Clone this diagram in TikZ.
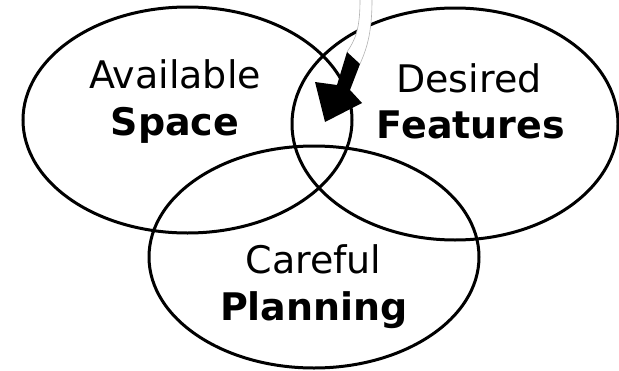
\documentclass[tikz,border=0pt]{standalone}
\usepackage{fontspec}
\setmainfont{DejaVu Sans}
\tikzset{
  ring/.style={line width=3pt},
  word/.style={anchor=base, inner sep=0pt, font=\fontsize{38}{47}\selectfont},
  boldword/.style={word, font=\fontsize{38}{47}\selectfont\bfseries}
}
\begin{document}
\begin{tikzpicture}[x=1pt,y=-1pt]
            \useasboundingbox (0,0) rectangle (619,370);
            \draw[ring] (187.5,120) ellipse [x radius=164.5pt, y radius=113pt];
            \draw[ring] (455,124) ellipse [x radius=163pt, y radius=116pt];
            \draw[ring] (314,257) ellipse [x radius=165pt, y radius=111pt];
            \node[word] (avail) at (175,88) {Available};
            \node[boldword] (space) at (175,135) {Space};
            \node[word] (desired) at (469,92) {Desired};
            \node[boldword] (features) at (471,138) {Features};
            \node[word] (careful) at (313.5,273) {Careful};
            \node[boldword] (planning) at (314,320) {Planning};
            % arrow into the middle
            \fill[white] (360,0) .. controls (360,30) and (355,40) .. (347,52)
                -- (360,64) .. controls (366,50) and (372,35) .. (372,0) -- cycle;
            \draw[gray!60, line width=0.6pt] (360,0) .. controls (360,30) and (355,40) .. (347,52);
            \draw[gray!60, line width=0.6pt] (372,0) .. controls (372,35) and (366,50) .. (360,64);
            \fill[black] (347,52) -- (337,85) -- (315,82) -- (325,122) -- (362,103)
                -- (350,90) -- (360,64) -- cycle;
\end{tikzpicture}
\end{document}
